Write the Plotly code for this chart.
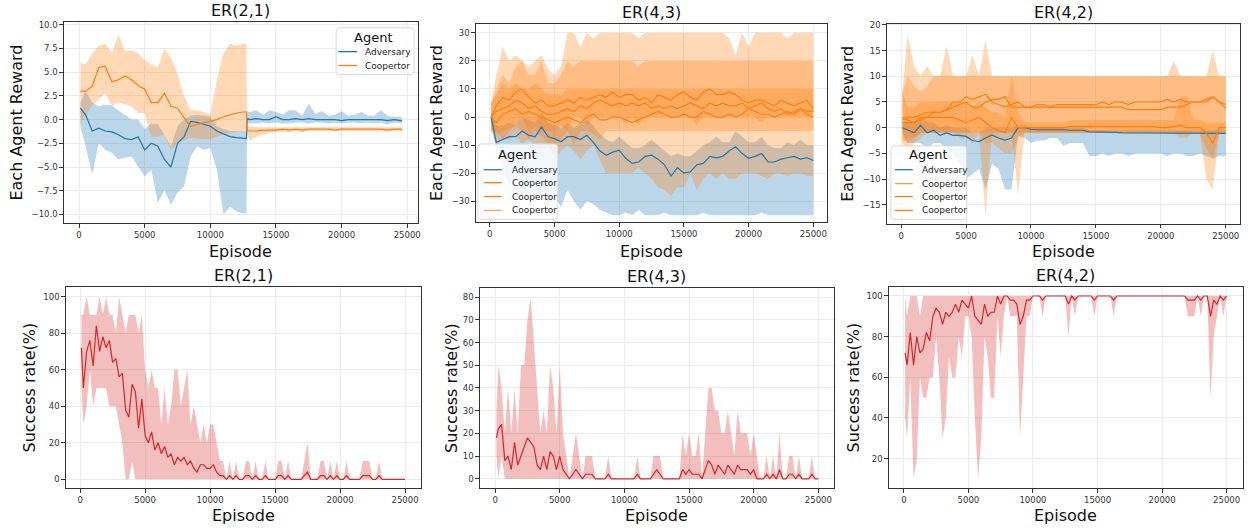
import plotly.graph_objects as go

W, H = 1249, 529
FONT = "DejaVu Sans"

# ---------------- episode grids ----------------
EP_A = [100] + list(range(500, 12501, 500)) + [12750, 12800] + list(range(13000, 24501, 500)) + [24600]
EP_T = [100] + list(range(500, 25001, 500))
EP_B = [100] + list(range(250, 25001, 250))

# ---------------- ER(2,1) reward ----------------
A21_ADV_MEAN = [1.2, 0.5, -1.2, -0.9, -1.2, -1.3, -1.6, -2.0, -2.1, -1.8,
                -3.2, -2.5, -2.8, -4.2, -5.0, -2.5, -1.8, -0.2, -0.3, -0.5,
                -0.7, -1.2, -1.5, -1.8, -1.9, -2.0, -2.0, 0.1,
                0.0, 0.1, 0.0, 0.0, 0.3, 0.0, 0.0, 0.1, 0.0, 0.1,
                0.0, 0.0, 0.0, 0.0, -0.1, 0.0, 0.0, 0.0, 0.0, 0.0,
                0.0, -0.1, 0.0, -0.1, -0.1]
A21_ADV_LO = [-0.7, -2.8, -5.8, -2.5, -3.2, -3.5, -4.2, -4.0, -3.9, -4.9,
              -6.0, -5.3, -8.8, -7.4, -9.0, -7.7, -7.0, -3.9, -2.8, -3.2,
              -3.0, -5.3, -10.0, -9.2, -9.7, -9.9, -9.9, -0.4,
              -0.4, -0.4, -0.3, -0.4, -0.3, -0.4, -0.4, -0.3, -0.3, -0.4,
              -0.3, -0.3, -0.4, -0.3, -0.4, -0.3, -0.3, -0.4, -0.3, -0.4,
              -0.3, -0.5, -0.3, -0.4, -0.3]
A21_ADV_HI = [1.8, 3.0, 1.8, 1.4, 1.6, 1.5, 1.0, 0.5, 0.0, 0.0,
              -1.0, -0.4, -0.5, -1.6, -2.8, -0.7, 0.0, 0.4, 0.5, 0.4,
              0.3, -0.7, -1.0, -1.2, -1.2, -1.2, -1.2, 0.9,
              0.8, 1.0, 0.5, 1.0, 0.8, 0.5, 1.0, 1.0, 0.4, 1.7,
              0.6, 0.9, 0.4, 0.5, 0.9, 0.4, 0.5, 0.8, 0.4, 0.4,
              1.0, 0.4, 0.3, 0.3, 0.2]
A21_COOP_MEAN = [3.0, 3.0, 3.5, 5.5, 5.6, 4.0, 4.2, 4.6, 4.2, 3.6,
                 3.2, 1.8, 1.8, 2.8, 1.4, 1.2, 0.2, -0.7, -0.5, -0.35,
                 -0.2, 0.0, 0.3, 0.5, 0.7, 0.8, 0.8, -1.15,
                 -1.2, -1.2, -1.1, -1.1, -1.1, -1.0, -1.1, -1.0, -1.1, -1.0,
                 -1.0, -1.0, -1.0, -1.1, -1.0, -1.0, -1.0, -1.0, -1.0, -1.0,
                 -1.0, -1.1, -1.0, -1.0, -1.1]
A21_COOP_LO = [-0.5, 0.5, 1.5, 2.1, 2.8, 1.4, 1.8, 1.6, 1.4, 0.7,
               0.7, -1.8, -1.8, -1.6, -3.2, -2.5, -2.2, -1.9, -2.0, -2.1,
               -2.1, -1.8, -1.6, -1.4, -1.3, -1.2, -1.2, -1.6,
               -2.2, -1.8, -1.6, -1.4, -1.3, -1.3, -1.3, -1.2, -1.3, -1.2,
               -1.2, -1.2, -1.2, -1.2, -1.2, -1.2, -1.2, -1.2, -1.2, -1.2,
               -1.2, -1.3, -1.2, -1.2, -1.3]
A21_COOP_HI = [6.0, 5.8, 7.0, 7.8, 8.0, 7.0, 9.0, 7.2, 7.3, 7.0,
               6.3, 5.8, 5.5, 7.5, 6.5, 4.8, 2.5, 1.0, 1.0, 0.8,
               0.5, 4.2, 7.0, 8.0, 7.8, 8.0, 8.0, -0.7,
               -0.7, -0.8, -0.8, -0.8, -0.8, -0.8, -0.8, -0.8, -0.8, -0.8,
               -0.8, -0.8, -0.8, -0.8, -0.8, -0.8, -0.8, -0.8, -0.8, -0.8,
               -0.8, -0.8, -0.8, -0.8, -0.8]

# ---------------- ER(4,3) reward ----------------
A43_ADV_MEAN = [0, -9, -8, -7, -7, -5, -6.5, -7, -3.5, -7,
                -7.7, -8.8, -7, -7, -8, -6.5, -9, -12, -13.6, -12.5,
                -11.8, -14.7, -16.5, -16, -14, -13.6, -15, -17, -21, -18,
                -20, -19.5, -17, -16.5, -14, -14.5, -14, -12, -10.6, -13,
                -14.7, -14, -13, -16, -16, -15, -14.5, -14, -15, -14.5,
                -15.5]
A43_ADV_LO = [-2, -12, -18, -25, -20, -28, -24, -30, -26, -33,
              -28, -32, -26, -30, -33, -30, -31, -33, -34, -35,
              -35, -34, -35, -33, -35, -35, -35, -34, -35, -35,
              -35, -35, -35, -34, -35, -35, -35, -35, -35, -35,
              -35, -35, -34, -35, -35, -35, -35, -35, -35, -35,
              -35]
A43_ADV_HI = [2, -3, -3, -2, -3, 0, -1, -2, 2, -2,
              -3, -4, -2, -4, -2, -1, -3, -6, -8, -9,
              -7, -9, -11, -11, -10, -8, -10, -12, -14, -13,
              -14, -14, -12, -10, -9, -7, -9, -9, -5, -7,
              -9, -9, -7, -10, -11, -11, -9, -10, -8, -10,
              -10]
A43_C1_MEAN = [0, 4, 7, 6, 9, 10, 7, 5, 6, 4,
               4, 5, 6, 5, 7, 6, 7, 8, 7, 9,
               7, 8, 8, 6, 7, 5, 8, 7, 6, 8,
               9, 7, 6, 9, 10, 8, 8, 9, 8, 6,
               5, 6, 6, 5, 4, 6, 5, 4, 5, 6,
               3]
A43_C1_LO = [-5, -5, -8, -5, -3, 0, -5, -3, -5, -5,
             -5, -3, -5, 0, 0, -3, 0, 0, 0, 0,
             0, -2, 0, -3, 0, 0, 0, 0, 0, 0,
             0, 0, -3, 0, 0, 0, 0, 0, 0, 0,
             0, 0, -2, 0, 0, 0, 0, 0, 0, 0,
             0]
A43_C1_HI = [5, 15, 25, 20, 22, 20, 18, 20, 22, 17,
             15, 18, 30, 30, 25, 30, 28, 30, 30, 30,
             30, 30, 30, 28, 30, 30, 30, 30, 30, 30,
             30, 30, 30, 30, 30, 30, 30, 28, 22, 30,
             25, 30, 30, 30, 30, 30, 28, 30, 30, 30,
             30]
A43_C2_MEAN = [0, 2, 3, 4, 6, 5, 3, 4, 2, 1,
               1, 2, 3, 2, 4, 3, 5, 6, 5, 4,
               5, 4, 5, 4, 5, 3, 4, 3, 4, 3,
               4, 5, 4, 3, 5, 4, 5, 4, 4, 5,
               3, 4, 5, 3, 2, 3, 1, 2, 3, 2,
               2]
A43_C2_LO = [-5, -6, -5, -4, -3, -5, -8, -5, -7, -10,
             -10, -8, -5, -10, -5, -5, -6, -8, -5, -5,
             -5, -5, -5, -5, -5, -5, -5, -5, -5, -5,
             -5, -5, -5, -5, -5, -5, -5, -5, -5, -5,
             -5, -5, -5, -5, -5, -5, -5, -5, -5, -5,
             -5]
A43_C2_HI = [5, 10, 15, 12, 18, 20, 15, 15, 20, 12,
             12, 15, 20, 18, 20, 20, 20, 20, 20, 20,
             20, 20, 20, 18, 20, 20, 20, 20, 20, 20,
             20, 20, 20, 20, 20, 20, 20, 20, 20, 20,
             20, 20, 20, 20, 20, 20, 20, 20, 20, 20,
             20]
A43_C3_MEAN = [0, -2, 1, 2, 3, 1, 2, 1, 0, -1,
               -2, -1, 0, -1, -2, 0, 1, -1, -1, 0,
               0, -1, -2, -1, 0, 1, 2, 1, 0, 0,
               1, 0, 0, 2, 1, 0, 0, 1, 0, 1,
               3, 2, 1, 1, 0, 1, 2, 1, 3, 1,
               0]
A43_C3_LO = [-5, -10, -8, -8, -6, -10, -8, -10, -12, -10,
             -15, -12, -10, -12, -15, -12, -10, -15, -20, -20,
             -20, -20, -20, -18, -20, -22, -25, -26, -28, -25,
             -25, -20, -26, -22, -20, -22, -20, -22, -22, -20,
             -20, -20, -21, -22, -20, -20, -21, -20, -20, -21,
             -21]
A43_C3_HI = [5, 8, 12, 10, 12, 10, 10, 12, 10, 8,
             8, 8, 10, 10, 10, 10, 10, 10, 10, 10,
             10, 10, 10, 10, 10, 10, 10, 10, 10, 10,
             10, 10, 10, 10, 10, 10, 10, 10, 10, 10,
             10, 10, 10, 10, 10, 10, 10, 10, 10, 10,
             10]

# ---------------- ER(4,2) reward ----------------
A42_ADV_MEAN = [0, -0.5, -1, 0.5, -1, -0.5, -1.5, -1, -1.5, -1.5,
                -1.7, -2.5, -2.7, -2, -1.4, -2, -2.4, -2, 0, 0,
                -0.3, -0.4, -0.4, -0.3, -0.3, -0.4, -0.5, -0.5, -0.5, -0.8,
                -0.8, -0.9, -0.9, -0.9, -1, -1, -1, -1, -1, -1,
                -1, -1, -1, -1, -1, -1, -1, -1, -1, -1,
                -1.1]
A42_ADV_LO = [-1, -3, -3, -3, -4, -3, -3, -4, -5, -7,
              -10, -9, -8, -12, -7, -8, -12, -12, -1.5, -2,
              -3, -2.5, -2.5, -2, -2, -3.5, -3, -3, -3, -5.5,
              -5.5, -5, -5.5, -5, -5, -5.5, -5, -5, -5, -5,
              -5, -5.5, -5, -5, -5.5, -5.5, -5, -5.5, -6, -5.5,
              -5.5]
A42_ADV_HI = [1, 1, 1, 2, 1, 1, 0, 0.5, 0, 0,
              0, -1, -1, 0, 0, 0, 0, 0, 0.5, 0.5,
              0, 0, 0, 0, 0, 0, 0, 0, 0, -0.5,
              -0.5, -0.5, -0.5, -0.5, -0.5, -0.5, -0.5, -0.5, -0.5, -0.5,
              -0.5, -0.5, -0.5, -0.5, -0.5, -0.5, -0.5, -0.5, -0.5, -0.5,
              -0.5]
A42_C1_MEAN = [1.5, 2, 2, 2.5, 3, 3, 3, 3.5, 5, 5,
               6, 5.5, 6, 6.5, 5, 4.5, 4, 4.5, 5, 4,
               4, 4.5, 4.5, 4, 4.5, 4.5, 4.5, 4.5, 4.5, 4.5,
               4.5, 5, 4.5, 5, 5, 4.5, 5, 5, 5, 5,
               5, 5.5, 5, 5.5, 5, 5, 5, 5.5, 6, 5,
               4.5]
A42_C1_LO = [-3, -5, -3, -2, -1, -1, -1, -1, -1, -1,
             -1, -1, -1, -17, -1, -1, -1, -1, -1, -1,
             -1, -1, -1, -1, -1, -1, -1, -1, -1, -1,
             -1, -1, -1, -1, -1, -1, -1, -1, -1, -1,
             -1, -1, -1, -1, -1, -1, -1, -10, -12, -1,
             -1]
A42_C1_HI = [7, 18, 12, 10, 12, 10, 10, 16, 10, 10,
             10, 14, 10, 17, 10, 10, 10, 10, 10, 10,
             10, 10, 10, 10, 10, 10, 10, 10, 10, 10,
             10, 10, 10, 10, 10, 10, 10, 10, 10, 10,
             10, 10, 13, 10, 10, 10, 10, 10, 15, 10,
             10]
A42_C2_MEAN = [1, 1, 1, 2, 2, 3, 3, 3.5, 4, 4.5,
               5, 4, 4, 5, 5.5, 5.5, 6, 4, 4, 4,
               4, 4, 4, 4, 4, 4, 4, 4, 4, 4,
               4, 4, 4, 4, 4, 3.5, 3.5, 3.5, 3.5, 3.5,
               3.5, 4, 4, 4, 4.5, 5, 5, 5, 6, 5,
               3.8]
A42_C2_LO = [-2, -3, -2, -1, -1, -1, -1, -1, -1, -1,
             -1, -1, -1, -1, -1, -1, -1, -1, -13, -1,
             -1, -1, -1, -1, -1, -1, -1, -1, -1, -1,
             -1, -1, -1, -1, -1, -1, -1, -1, -1, -1,
             -1, -1, -1, -1, -1, -1, -1, -1, -1, -1,
             -1]
A42_C2_HI = [7, 10, 8, 7, 8, 10, 10, 10, 10, 10,
             10, 10, 10, 10, 10, 10, 10, 10, 10, 10,
             10, 10, 10, 10, 10, 10, 10, 10, 10, 10,
             10, 10, 10, 10, 10, 10, 10, 10, 10, 10,
             10, 10, 10, 10, 10, 10, 10, 10, 10, 10,
             10]
A42_C3_MEAN = [2, 1.5, 1, 1.5, 2, 2, 2, 2, 2, 1.5,
               1, 1.5, 2, 1, 0, -0.5, -1, 2, 0, 0,
               0, 0, 0, 0, 0, 0, 0.2, 0.2, 0.3, 0.3,
               0.3, 0.3, 0.2, 0.2, 0.2, 0.2, 0.2, 0.2, 0.2, 0.2,
               0, 0, 0.2, 0.5, 0, 0, 0, -1, -3, 0,
               0]
A42_C3_LO = [-3, -2, -2, -1, -1, -1, -1, -1, -1, -2,
             -2, -3, -1, -3, -3, -4, -5, -5, -2, -1,
             -1, -1, -1, -1, -1, -1, -1, -1, -1, -1,
             -1, -1, -1, -1, -1, -1, -1, -1, -1, -1,
             -1, -1, -1, -2, -2, -1, -1, -4, -6, -1,
             -1]
A42_C3_HI = [7, 4, 4, 5, 5, 5, 5, 5, 5, 5,
             5, 4, 5, 4, 3, 3, 2, 10, 3, 1,
             1, 1, 1, 1, 1, 1, 1.5, 1.5, 1.5, 1.5,
             1.5, 1.5, 1.5, 1.5, 1.5, 1.5, 1.5, 1.5, 1.5, 1.5,
             1.5, 1.5, 1.5, 6, 6, 1.5, 1.5, 1, 1, 1,
             1]

# ---------------- success rates ----------------
S21_MEAN = [72, 50, 70, 76, 62, 84, 70, 78, 72, 76,
            64, 66, 56, 58, 38, 34, 52, 48, 28, 44,
            24, 20, 26, 16, 20, 14, 18, 12, 14, 8,
            12, 10, 12, 8, 10, 6, 4, 8, 8, 6,
            6, 8, 4, 2, 2, 0, 2, 0, 2, 0,
            0, 2, 2, 0, 2, 0, 0, 2, 0, 0,
            0, 2, 2, 0, 2, 0, 0, 0, 0, 2,
            4, 0, 0, 0, 2, 2, 0, 2, 0, 2,
            0, 0, 2, 0, 0, 0, 0, 2, 2, 2,
            0, 0, 2, 0, 0, 0, 0, 0, 0, 0,
            0]
S21_LO = [50, 30, 40, 60, 40, 50, 50, 50, 50, 40,
          40, 40, 30, 20, 0, 0, 10, 0, 0, 0,
          0, 0, 0, 0, 0, 0, 0, 0, 0, 0,
          0, 0, 0, 0, 0, 0, 0, 0, 0, 0,
          0, 0, 0, 0, 0, 0, 0, 0, 0, 0,
          0, 0, 0, 0, 0, 0, 0, 0, 0, 0,
          0, 0, 0, 0, 0, 0, 0, 0, 0, 0,
          0, 0, 0, 0, 0, 0, 0, 0, 0, 0,
          0, 0, 0, 0, 0, 0, 0, 0, 0, 0,
          0, 0, 0, 0, 0, 0, 0, 0, 0, 0,
          0]
S21_HI = [90, 90, 100, 90, 90, 90, 100, 90, 100, 90,
          90, 80, 100, 90, 80, 90, 90, 90, 80, 90,
          60, 50, 60, 50, 50, 30, 50, 30, 40, 60,
          60, 40, 50, 60, 30, 40, 30, 20, 30, 20,
          30, 30, 20, 10, 10, 0, 10, 0, 10, 0,
          0, 10, 10, 0, 10, 0, 0, 10, 0, 0,
          0, 10, 10, 0, 10, 0, 0, 0, 0, 10,
          20, 0, 0, 0, 10, 10, 0, 10, 0, 10,
          0, 0, 10, 0, 0, 0, 0, 10, 10, 10,
          0, 0, 10, 0, 0, 0, 0, 0, 0, 0,
          0]

S43_MEAN = [18, 22, 24, 8, 10, 4, 16, 6, 10, 14,
            18, 16, 14, 6, 4, 10, 4, 12, 10, 4,
            10, 4, 2, 0, 2, 4, 2, 0, 2, 2,
            2, 0, 0, 0, 0, 2, 0, 0, 0, 0,
            0, 0, 0, 0, 2, 0, 0, 0, 0, 2,
            4, 2, 0, 0, 0, 0, 0, 0, 4, 2,
            4, 2, 2, 2, 0, 4, 8, 6, 2, 6,
            4, 2, 6, 4, 2, 6, 4, 4, 4, 2,
            4, 0, 0, 0, 2, 0, 2, 0, 4, 0,
            0, 2, 2, 0, 2, 0, 0, 0, 2, 0,
            0]
S43_LO = [10, 0, 10, 0, 0, 0, 0, 0, 0, 0,
          0, 0, 0, 0, 0, 0, 0, 0, 0, 0,
          0, 0, 0, 0, 0, 0, 0, 0, 0, 0,
          0, 0, 0, 0, 0, 0, 0, 0, 0, 0,
          0, 0, 0, 0, 0, 0, 0, 0, 0, 0,
          0, 0, 0, 0, 0, 0, 0, 0, 0, 0,
          0, 0, 0, 0, 0, 0, 0, 0, 0, 0,
          0, 0, 0, 0, 0, 0, 0, 0, 0, 0,
          0, 0, 0, 0, 0, 0, 0, 0, 0, 0,
          0, 0, 0, 0, 0, 0, 0, 0, 0, 0,
          0]
S43_HI = [30, 50, 40, 20, 40, 20, 40, 20, 50, 50,
          70, 80, 60, 40, 20, 30, 20, 50, 40, 20,
          50, 20, 10, 0, 10, 20, 10, 0, 10, 10,
          10, 0, 0, 0, 0, 10, 0, 0, 0, 0,
          0, 0, 0, 0, 10, 0, 0, 0, 0, 10,
          10, 10, 0, 0, 0, 0, 0, 0, 20, 10,
          20, 10, 10, 20, 0, 20, 40, 40, 30, 30,
          20, 20, 30, 20, 10, 30, 20, 20, 20, 10,
          20, 10, 0, 0, 10, 0, 10, 0, 20, 0,
          0, 10, 10, 0, 10, 0, 0, 0, 10, 0,
          0]

S42_MEAN = [72, 66, 82, 66, 80, 72, 74, 82, 78, 90,
            94, 92, 86, 92, 90, 92, 96, 92, 98, 96,
            94, 100, 90, 88, 86, 96, 90, 92, 92, 100,
            96, 100, 100, 98, 98, 96, 86, 90, 98, 98,
            100, 100, 100, 98, 100, 100, 100, 100, 100, 100,
            100, 96, 100, 98, 100, 100, 100, 100, 100, 98,
            100, 100, 100, 100, 100, 98, 100, 100, 100, 100,
            100, 100, 100, 100, 100, 100, 100, 100, 100, 100,
            100, 100, 100, 100, 100, 100, 100, 100, 98, 98,
            98, 100, 98, 100, 100, 90, 98, 96, 100, 98,
            100]
S42_LO = [40, 30, 60, 10, 20, 60, 50, 50, 60, 60,
          80, 60, 30, 40, 70, 60, 60, 80, 70, 90,
          90, 80, 40, 10, 30, 80, 70, 50, 50, 90,
          70, 90, 100, 90, 90, 90, 30, 60, 90, 90,
          100, 100, 100, 90, 100, 100, 100, 100, 100, 100,
          100, 80, 100, 90, 100, 100, 100, 100, 100, 90,
          100, 100, 100, 100, 100, 90, 100, 100, 100, 100,
          100, 100, 100, 100, 100, 100, 100, 100, 100, 100,
          100, 100, 100, 100, 100, 100, 100, 100, 90, 90,
          90, 100, 90, 100, 100, 50, 80, 90, 100, 90,
          100]
S42_HI = [100, 90, 100, 100, 100, 90, 100, 100, 100, 100,
          100, 100, 100, 100, 100, 100, 100, 100, 100, 100,
          100, 100, 100, 100, 100, 100, 100, 100, 100, 100,
          100, 100, 100, 100, 100, 100, 100, 100, 100, 100,
          100, 100, 100, 100, 100, 100, 100, 100, 100, 100,
          100, 100, 100, 100, 100, 100, 100, 100, 100, 100,
          100, 100, 100, 100, 100, 100, 100, 100, 100, 100,
          100, 100, 100, 100, 100, 100, 100, 100, 100, 100,
          100, 100, 100, 100, 100, 100, 100, 100, 100, 100,
          100, 100, 100, 100, 100, 100, 100, 100, 100, 100,
          100]

TITLES = ["ER(2,1)", "ER(4,3)", "ER(4,2)", "ER(2,1)", "ER(4,3)", "ER(4,2)"]
XTICKS = [0, 5000, 10000, 15000, 20000, 25000]

BLUE = "#1f77b4"
ORANGE = "#ff7f0e"
RED = "#d62728"


def rgba(hexc, a):
    h = hexc.lstrip("#")
    r, g, b = int(h[0:2], 16), int(h[2:4], 16), int(h[4:6], 16)
    return f"rgba({r},{g},{b},{a})"


def fx(p):
    return p / W


def fy(p):
    return 1 - p / H


fig = go.Figure()

SERIES = [
    (1, EP_A, A21_ADV_MEAN, A21_ADV_LO, A21_ADV_HI, BLUE),
    (1, EP_A, A21_COOP_MEAN, A21_COOP_LO, A21_COOP_HI, ORANGE),
    (2, EP_T, A43_ADV_MEAN, A43_ADV_LO, A43_ADV_HI, BLUE),
    (2, EP_T, A43_C1_MEAN, A43_C1_LO, A43_C1_HI, ORANGE),
    (2, EP_T, A43_C2_MEAN, A43_C2_LO, A43_C2_HI, ORANGE),
    (2, EP_T, A43_C3_MEAN, A43_C3_LO, A43_C3_HI, ORANGE),
    (3, EP_T, A42_ADV_MEAN, A42_ADV_LO, A42_ADV_HI, BLUE),
    (3, EP_T, A42_C1_MEAN, A42_C1_LO, A42_C1_HI, ORANGE),
    (3, EP_T, A42_C2_MEAN, A42_C2_LO, A42_C2_HI, ORANGE),
    (3, EP_T, A42_C3_MEAN, A42_C3_LO, A42_C3_HI, ORANGE),
    (4, EP_B, S21_MEAN, S21_LO, S21_HI, RED),
    (5, EP_B, S43_MEAN, S43_LO, S43_HI, RED),
    (6, EP_B, S42_MEAN, S42_LO, S42_HI, RED),
]


def axes_of(k):
    return ("x" if k == 1 else f"x{k}"), ("y" if k == 1 else f"y{k}")


# bands first, then lines on top
for k, x, mean, lo, hi, color in SERIES:
    assert len(x) == len(mean) == len(lo) == len(hi), (k, len(x), len(mean), len(lo), len(hi))
    xa, ya = axes_of(k)
    fig.add_trace(go.Scatter(x=list(x) + list(x)[::-1], y=list(hi) + list(lo)[::-1],
                             fill="toself", fillcolor=rgba(color, 0.3),
                             line=dict(width=0), mode="lines", hoverinfo="skip",
                             showlegend=False, xaxis=xa, yaxis=ya))
for k, x, mean, lo, hi, color in SERIES:
    xa, ya = axes_of(k)
    fig.add_trace(go.Scatter(x=x, y=mean, mode="lines", line=dict(color=color, width=1.2),
                             showlegend=False, xaxis=xa, yaxis=ya))

# panel boxes in pixels (left, top, right, bottom)
BOXES = [(64, 18, 419, 221), (477, 20, 829, 220), (889, 20, 1243, 221.5),
         (66, 285, 422, 488), (481, 286, 836, 488), (891, 285, 1246, 488)]
XRANGES = [[-1160, 25820], [-1079, 26056], [-1099, 26099],
           [-1098, 26228], [-1181, 26211], [-1160, 26268]]
YRANGES = [[-10.94, 10.31], [-37.5, 33.2], [-18.7, 20.2],
           [-4.9, 105.3], [-4.2, 84.1], [5.4, 104.5]]
YTICKS = [[-10, -7.5, -5, -2.5, 0, 2.5, 5, 7.5, 10],
          [-30, -20, -10, 0, 10, 20, 30],
          [-15, -10, -5, 0, 5, 10, 15, 20],
          [0, 20, 40, 60, 80, 100],
          [0, 10, 20, 30, 40, 50, 60, 70, 80],
          [20, 40, 60, 80, 100]]
YFMT = [".1f", "d", "d", "d", "d", "d"]
YLABELS = ["Each Agent Reward"] * 3 + ["Success rate(%)"] * 3
YLABEL_X = [17, 437, 850, 30, 452, 856]
XLABEL_Y = [249, 249, 249, 515, 515, 515]

axis_common = dict(showline=True, mirror=True, linecolor="#333333", linewidth=1.1,
                   ticks="outside", ticklen=3.5, tickwidth=1, tickcolor="#333333",
                   tickfont=dict(family=FONT, size=8.5, color="#333333"),
                   showgrid=True, gridcolor="#ebebeb", gridwidth=1, zeroline=False)

layout = dict(width=W, height=H, margin=dict(l=0, r=0, t=0, b=0),
              paper_bgcolor="white", plot_bgcolor="white", showlegend=False,
              font=dict(family=FONT, color="#111111"))
annotations = []
shapes = []
for i in range(6):
    k = i + 1
    l, t, r, b = BOXES[i]
    xkey = "xaxis" if k == 1 else f"xaxis{k}"
    ykey = "yaxis" if k == 1 else f"yaxis{k}"
    xa, ya = axes_of(k)
    layout[xkey] = dict(domain=[fx(l), fx(r)], range=XRANGES[i], anchor=ya,
                        tickvals=XTICKS, ticktext=[str(v) for v in XTICKS], **axis_common)
    layout[ykey] = dict(domain=[fy(b), fy(t)], range=YRANGES[i], anchor=xa,
                        tickvals=YTICKS[i], tickformat=YFMT[i], **axis_common)
    annotations.append(dict(text=TITLES[i], xref="paper", yref="paper",
                            x=fx((l + r) / 2), y=fy(t), xanchor="center", yanchor="bottom",
                            yshift=0, showarrow=False, font=dict(family=FONT, size=16, color="#111111")))
    annotations.append(dict(text="Episode", xref="paper", yref="paper",
                            x=fx((l + r) / 2), y=fy(XLABEL_Y[i]), xanchor="center", yanchor="middle",
                            showarrow=False, font=dict(family=FONT, size=16, color="#111111")))
    annotations.append(dict(text=YLABELS[i], xref="paper", yref="paper", textangle=-90,
                            x=fx(YLABEL_X[i]), y=fy((t + b) / 2), xanchor="center", yanchor="middle",
                            showarrow=False, font=dict(family=FONT, size=16, color="#111111")))


def rounded_box(x0, y0, x1, y1, rad=3):
    pts = [
        f"M {fx(x0 + rad)},{fy(y0)}", f"L {fx(x1 - rad)},{fy(y0)}",
        f"Q {fx(x1)},{fy(y0)} {fx(x1)},{fy(y0 + rad)}", f"L {fx(x1)},{fy(y1 - rad)}",
        f"Q {fx(x1)},{fy(y1)} {fx(x1 - rad)},{fy(y1)}", f"L {fx(x0 + rad)},{fy(y1)}",
        f"Q {fx(x0)},{fy(y1)} {fx(x0)},{fy(y1 - rad)}", f"L {fx(x0)},{fy(y0 + rad)}",
        f"Q {fx(x0)},{fy(y0)} {fx(x0 + rad)},{fy(y0)}", "Z"]
    return " ".join(pts)


LEGENDS = [
    dict(box=(337, 24, 415, 71), title_xy=(374, 34), line_x=(339, 358), text_x=364,
         entries=[("Adversary", BLUE, 48), ("Coopertor", ORANGE, 62)]),
    dict(box=(479, 141, 559, 217), title_xy=(518, 152), line_x=(485, 503), text_x=511,
         entries=[("Adversary", BLUE, 167), ("Coopertor", ORANGE, 180),
                  ("Coopertor", ORANGE, 194), ("Coopertor", "#ffa25a", 208)]),
    dict(box=(893, 143, 969, 217), title_xy=(930, 152), line_x=(897, 915), text_x=922,
         entries=[("Adversary", BLUE, 167), ("Coopertor", "#ff9a4a", 181),
                  ("Coopertor", ORANGE, 194), ("Coopertor", ORANGE, 208)]),
]
for lg in LEGENDS:
    x0, y0, x1, y1 = lg["box"]
    shapes.append(dict(type="path", path=rounded_box(x0, y0, x1, y1), xref="paper", yref="paper",
                       fillcolor="rgba(255,255,255,0.8)", line=dict(color="#d9d9d9", width=1),
                       layer="above"))
    annotations.append(dict(text="Agent", xref="paper", yref="paper",
                            x=fx(lg["title_xy"][0]), y=fy(lg["title_xy"][1]),
                            xanchor="center", yanchor="middle", showarrow=False,
                            font=dict(family=FONT, size=13, color="#111111")))
    for name, col, yy in lg["entries"]:
        shapes.append(dict(type="line", xref="paper", yref="paper",
                           x0=fx(lg["line_x"][0]), x1=fx(lg["line_x"][1]), y0=fy(yy), y1=fy(yy),
                           line=dict(color=col, width=1.3), layer="above"))
        annotations.append(dict(text=name, xref="paper", yref="paper",
                                x=fx(lg["text_x"]), y=fy(yy), xanchor="left", yanchor="middle",
                                showarrow=False, font=dict(family=FONT, size=9, color="#222222")))

layout["annotations"] = annotations
layout["shapes"] = shapes
fig.update_layout(**layout)
fig.write_html("out.html")
